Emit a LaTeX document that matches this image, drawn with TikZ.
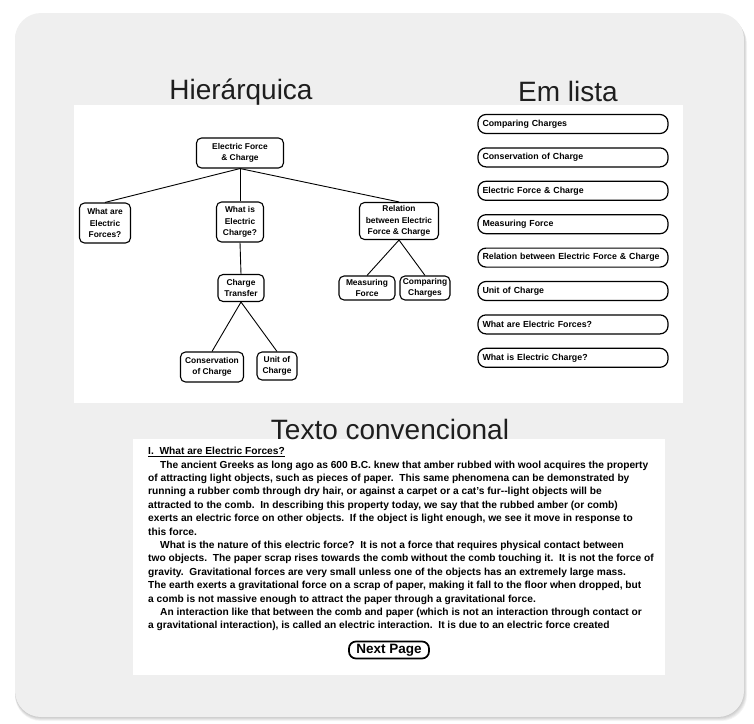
\documentclass[tikz,border=0pt]{standalone}
\usepackage{fontspec}
\setmainfont{Liberation Sans}
\usepackage{xcolor}
\usepackage{tikz}
\usetikzlibrary{positioning}

\definecolor{panelgray}{HTML}{EFEFEF}
\definecolor{titlegray}{HTML}{1E1E1E}

\begin{document}
\begin{tikzpicture}[x=1pt, y=-1pt,
    titletxt/.style={font=\fontsize{28}{30}\selectfont, text=titlegray, inner sep=0pt},
    treebox/.style={draw, line width=1.1pt, rounded corners=5pt, fill=white,
      align=center, inner sep=1pt, font=\fontsize{8.4}{11.2}\selectfont\bfseries},
    listbox/.style={draw, line width=1.2pt, rounded corners=8pt, fill=white,
      minimum width=190pt, minimum height=19pt, text width=181pt, align=left,
      inner sep=0pt, font=\fontsize{8.8}{10}\selectfont\bfseries},
    link/.style={line width=0.9pt},
    btn/.style={draw, line width=1.7pt, rounded corners=7pt, minimum width=80pt,
      minimum height=17pt, inner sep=0pt, font=\fontsize{13.5}{14}\selectfont\bfseries}]
  \useasboundingbox (0,0) rectangle (754,723);
  % ============= frame =============
  \foreach \s in {1,...,5}
    \fill[black, opacity=0.045, rounded corners=26pt]
      (15,13+\s) rectangle (744+0.6*\s,717+0.8*\s);
  \fill[panelgray, rounded corners=26pt] (15,13) rectangle (744,717);
  \fill[white] (74,105) rectangle (683,403);
  \fill[white] (133,439) rectangle (665,675);
  % ============= titles =============
  \node[titletxt] (thier) at (241,92) {Hierárquica};
  \node[titletxt] (tlist) at (568,91) {Em lista};
  \node[titletxt] (ttext) at (390,429) {Texto convencional};
  % ============= Panel 1: hierarchy =============
  \node[treebox, minimum width=87pt, minimum height=30pt] (root) at (240,153)
    {Electric Force\\\& Charge};
  \node[treebox, minimum width=51pt, minimum height=40pt] (whatare) at (105,223)
    {What are\\Electric\\Forces?};
  \node[treebox, minimum width=47pt, minimum height=40pt] (whatis) at (240,222)
    {What is\\Electric\\Charge?};
  \node[treebox, minimum width=79pt, minimum height=37pt] (relation) at (399,221)
    {Relation\\between Electric\\Force \& Charge};
  \node[treebox, minimum width=46pt, minimum height=27pt] (transfer) at (241,288)
    {Charge\\Transfer};
  \node[treebox, minimum width=56pt, minimum height=24pt] (measuring) at (367,288)
    {Measuring\\Force};
  \node[treebox, minimum width=50pt, minimum height=24pt] (comparing) at (425,288)
    {Comparing\\Charges};
  \node[treebox, minimum width=63pt, minimum height=30pt] (conservation) at (212,367)
    {Conservation\\of Charge};
  \node[treebox, minimum width=40pt, minimum height=28pt] (unit) at (277,366)
    {Unit of\\Charge};
  % links
  \draw[link] (root.south) -- (whatare.north);
  \draw[link] (root.south) -- (whatis.north);
  \draw[link] (root.south) -- (relation.north);
  \draw[link] (whatis.south) -- (transfer.north);
  \draw[link] (transfer.south) -- (conservation.north);
  \draw[link] (transfer.south) -- (unit.north);
  \draw[link] (relation.south) -- (measuring.north);
  \draw[link] (relation.south) -- (comparing.north);
  % ============= Panel 2: list =============
  \foreach \txt [count=\i] in {Comparing Charges, Conservation of Charge,
      Electric Force \& Charge, Measuring Force,
      Relation between Electric Force \& Charge, Unit of Charge,
      What are Electric Forces?, What is Electric Charge?}
    \node[listbox] (item\i) at (573,{124+33.4*(\i-1)}) {\txt};
  % ============= Panel 3: plain text =============
  \node[anchor=north west, align=left, inner sep=0pt,
        font=\fontsize{10.2}{13.4}\selectfont\bfseries] (body) at (148,447)
    {\underline{I.\ \ What are Electric Forces?}\\
     \hspace*{12pt}The ancient Greeks as long ago as 600 B.C. knew that amber rubbed with wool acquires the property\\
     of attracting light objects, such as pieces of paper.\ \ This same phenomena can be demonstrated by\\
     running a rubber comb through dry hair, or against a carpet or a cat's fur-{}-light objects will be\\
     attracted to the comb.\ \ In describing this property today, we say that the rubbed amber (or comb)\\
     exerts an electric force on other objects.\ \ If the object is light enough, we see it move in response to\\
     this force.\\
     \hspace*{12pt}What is the nature of this electric force?\ \ It is not a force that requires physical contact between\\
     two objects.\ \ The paper scrap rises towards the comb without the comb touching it.\ \ It is not the force of\\
     gravity.\ \ Gravitational forces are very small unless one of the objects has an extremely large mass.\\
     The earth exerts a gravitational force on a scrap of paper, making it fall to the floor when dropped, but\\
     a comb is not massive enough to attract the paper through a gravitational force.\\
     \hspace*{12pt}An interaction like that between the comb and paper (which is not an interaction through contact or\\
     a gravitational interaction), is called an electric interaction.\ \ It is due to an electric force created};
  \node[btn] (next) at (389,650) {Next Page};
\end{tikzpicture}
\end{document}
